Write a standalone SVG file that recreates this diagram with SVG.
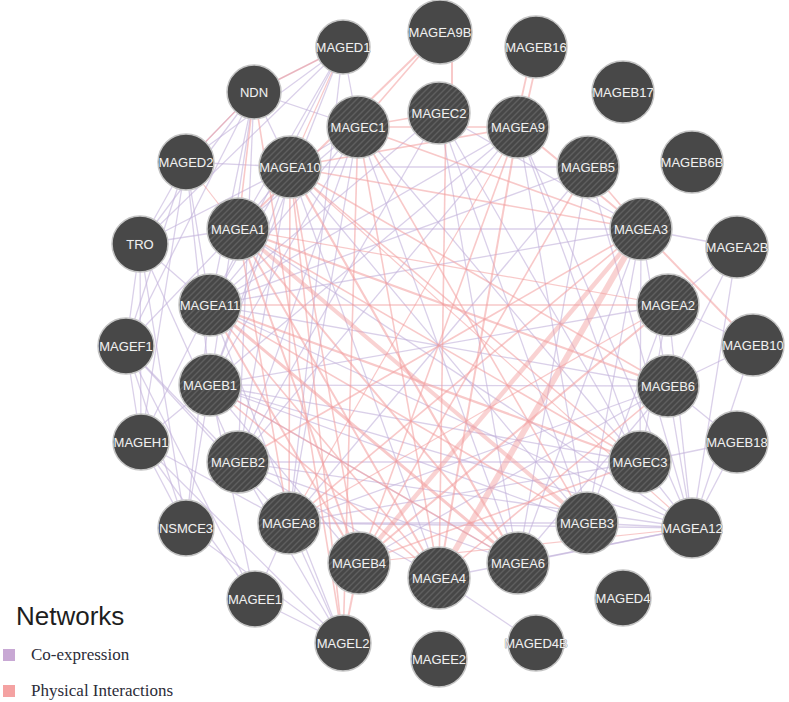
<svg xmlns="http://www.w3.org/2000/svg" width="789" height="702" viewBox="0 0 789 702">
<defs>
<pattern id="hatch" patternUnits="userSpaceOnUse" width="6" height="6">
<rect width="6" height="6" fill="#474747"/>
<path d="M-1,1 L1,-1 M0,6 L6,0 M5,7 L7,5" stroke="#5f5f5f" stroke-width="1.4"/>
</pattern>
<style>
.c{stroke:#c2b0da;stroke-width:1.3;opacity:0.6;fill:none}
.p{stroke:#f29c9c;stroke-width:1.6;opacity:0.55;fill:none}
.n{fill:#484848;stroke:#c4c4c4;stroke-width:1.5}
.h{fill:url(#hatch);stroke:#c4c4c4;stroke-width:1.5}
.t{font-family:"Liberation Sans",Arial,sans-serif;font-size:13px;fill:#f0f0f0;text-anchor:middle;stroke:#5a5a5a;stroke-width:0.6;paint-order:stroke}
.lg{font-family:"Liberation Serif","Times New Roman",serif;font-size:17px;fill:#2c2c38}
</style>
</defs>
<rect width="789" height="702" fill="#ffffff"/>
<g id="connectors">
<line class="c" x1="343" y1="47" x2="254" y2="92"/>
<line class="c" x1="343" y1="47" x2="186" y2="162"/>
<line class="c" x1="343" y1="47" x2="140" y2="244"/>
<line class="c" x1="343" y1="47" x2="238" y2="229"/>
<line class="c" x1="343" y1="47" x2="210" y2="305"/>
<line class="c" x1="343" y1="47" x2="358" y2="127"/>
<line class="c" x1="343" y1="47" x2="210" y2="385"/>
<line class="c" x1="343" y1="47" x2="289" y2="523"/>
<line class="c" x1="254" y1="92" x2="186" y2="162"/>
<line class="c" x1="254" y1="92" x2="140" y2="244"/>
<line class="c" x1="254" y1="92" x2="290" y2="167"/>
<line class="c" x1="254" y1="92" x2="210" y2="305"/>
<line class="c" x1="254" y1="92" x2="210" y2="385"/>
<line class="c" x1="254" y1="92" x2="358" y2="127"/>
<line class="c" x1="254" y1="92" x2="126" y2="346"/>
<line class="c" x1="254" y1="92" x2="238" y2="462"/>
<line class="c" x1="186" y1="162" x2="140" y2="244"/>
<line class="c" x1="186" y1="162" x2="126" y2="346"/>
<line class="c" x1="186" y1="162" x2="290" y2="167"/>
<line class="c" x1="186" y1="162" x2="210" y2="305"/>
<line class="c" x1="186" y1="162" x2="141" y2="442"/>
<line class="c" x1="186" y1="162" x2="210" y2="385"/>
<line class="c" x1="140" y1="244" x2="126" y2="346"/>
<line class="c" x1="140" y1="244" x2="141" y2="442"/>
<line class="c" x1="140" y1="244" x2="238" y2="229"/>
<line class="c" x1="140" y1="244" x2="210" y2="305"/>
<line class="c" x1="140" y1="244" x2="186" y2="528"/>
<line class="c" x1="140" y1="244" x2="290" y2="167"/>
<line class="c" x1="140" y1="244" x2="238" y2="462"/>
<line class="c" x1="126" y1="346" x2="141" y2="442"/>
<line class="c" x1="126" y1="346" x2="186" y2="528"/>
<line class="c" x1="126" y1="346" x2="238" y2="462"/>
<line class="c" x1="126" y1="346" x2="255" y2="599"/>
<line class="c" x1="126" y1="346" x2="238" y2="229"/>
<line class="c" x1="126" y1="346" x2="289" y2="523"/>
<line class="c" x1="141" y1="442" x2="186" y2="528"/>
<line class="c" x1="141" y1="442" x2="255" y2="599"/>
<line class="c" x1="141" y1="442" x2="343" y2="643"/>
<line class="c" x1="141" y1="442" x2="289" y2="523"/>
<line class="c" x1="141" y1="442" x2="210" y2="385"/>
<line class="c" x1="141" y1="442" x2="210" y2="305"/>
<line class="c" x1="186" y1="528" x2="343" y2="643"/>
<line class="c" x1="186" y1="528" x2="210" y2="385"/>
<line class="c" x1="186" y1="528" x2="210" y2="305"/>
<line class="c" x1="255" y1="599" x2="210" y2="385"/>
<line class="c" x1="255" y1="599" x2="343" y2="643"/>
<line class="c" x1="255" y1="599" x2="289" y2="523"/>
<line class="c" x1="343" y1="643" x2="289" y2="523"/>
<line class="c" x1="343" y1="643" x2="210" y2="305"/>
<line class="c" x1="343" y1="643" x2="238" y2="462"/>
<line class="c" x1="290" y1="167" x2="358" y2="127"/>
<line class="c" x1="290" y1="167" x2="238" y2="229"/>
<line class="c" x1="358" y1="127" x2="238" y2="229"/>
<line class="c" x1="358" y1="127" x2="210" y2="305"/>
<line class="c" x1="290" y1="167" x2="210" y2="305"/>
<line class="c" x1="290" y1="167" x2="210" y2="385"/>
<line class="c" x1="290" y1="167" x2="587" y2="523"/>
<line class="c" x1="290" y1="167" x2="439" y2="578"/>
<line class="c" x1="358" y1="127" x2="640" y2="462"/>
<line class="c" x1="358" y1="127" x2="518" y2="563"/>
<line class="c" x1="358" y1="127" x2="289" y2="523"/>
<line class="c" x1="439" y1="113" x2="238" y2="462"/>
<line class="c" x1="439" y1="113" x2="587" y2="523"/>
<line class="c" x1="439" y1="113" x2="210" y2="305"/>
<line class="c" x1="518" y1="127" x2="210" y2="385"/>
<line class="c" x1="518" y1="127" x2="210" y2="305"/>
<line class="c" x1="518" y1="127" x2="238" y2="462"/>
<line class="c" x1="238" y1="229" x2="641" y2="229"/>
<line class="c" x1="238" y1="229" x2="692" y2="528"/>
<line class="c" x1="210" y1="305" x2="692" y2="528"/>
<line class="c" x1="210" y1="385" x2="692" y2="528"/>
<line class="c" x1="238" y1="462" x2="692" y2="528"/>
<line class="c" x1="289" y1="523" x2="692" y2="528"/>
<line class="c" x1="439" y1="578" x2="692" y2="528"/>
<line class="c" x1="518" y1="563" x2="692" y2="528"/>
<line class="c" x1="587" y1="523" x2="692" y2="528"/>
<line class="c" x1="640" y1="462" x2="692" y2="528"/>
<line class="c" x1="668" y1="305" x2="692" y2="528"/>
<line class="c" x1="737" y1="247" x2="692" y2="528"/>
<line class="c" x1="668" y1="386" x2="737" y2="442"/>
<line class="c" x1="640" y1="462" x2="737" y2="442"/>
<line class="c" x1="668" y1="305" x2="753" y2="345"/>
<line class="c" x1="668" y1="386" x2="753" y2="345"/>
<line class="c" x1="641" y1="229" x2="737" y2="247"/>
<line class="c" x1="668" y1="305" x2="737" y2="247"/>
<line class="c" x1="668" y1="386" x2="737" y2="247"/>
<line class="c" x1="641" y1="229" x2="668" y2="386"/>
<line class="c" x1="641" y1="229" x2="640" y2="462"/>
<line class="c" x1="668" y1="305" x2="640" y2="462"/>
<line class="c" x1="668" y1="305" x2="587" y2="523"/>
<line class="c" x1="668" y1="386" x2="518" y2="563"/>
<line class="c" x1="668" y1="386" x2="359" y2="563"/>
<line class="c" x1="640" y1="462" x2="289" y2="523"/>
<line class="c" x1="640" y1="462" x2="238" y2="462"/>
<line class="c" x1="587" y1="523" x2="210" y2="385"/>
<line class="c" x1="587" y1="523" x2="289" y2="523"/>
<line class="c" x1="518" y1="563" x2="210" y2="385"/>
<line class="c" x1="518" y1="563" x2="238" y2="462"/>
<line class="c" x1="439" y1="578" x2="536" y2="643"/>
<line class="c" x1="439" y1="578" x2="238" y2="462"/>
<line class="c" x1="359" y1="563" x2="210" y2="385"/>
<line class="c" x1="238" y1="462" x2="290" y2="167"/>
<line class="c" x1="238" y1="462" x2="358" y2="127"/>
<line class="c" x1="210" y1="385" x2="358" y2="127"/>
<line class="c" x1="210" y1="305" x2="668" y2="386"/>
<line class="c" x1="210" y1="385" x2="668" y2="386"/>
<line class="c" x1="210" y1="385" x2="640" y2="462"/>
<line class="c" x1="692" y1="528" x2="518" y2="127"/>
<line class="c" x1="692" y1="528" x2="588" y2="167"/>
<line class="c" x1="588" y1="167" x2="290" y2="167"/>
<line class="c" x1="588" y1="167" x2="210" y2="305"/>
<line class="c" x1="439" y1="113" x2="641" y2="229"/>
<line class="c" x1="641" y1="229" x2="210" y2="305"/>
<line class="c" x1="668" y1="305" x2="210" y2="385"/>
<line class="c" x1="668" y1="386" x2="289" y2="523"/>
<line class="c" x1="518" y1="127" x2="640" y2="462"/>
<line class="c" x1="518" y1="127" x2="587" y2="523"/>
<line class="c" x1="439" y1="113" x2="518" y2="563"/>
<line class="c" x1="439" y1="113" x2="640" y2="462"/>
<line class="c" x1="588" y1="167" x2="518" y2="563"/>
<line class="c" x1="588" y1="167" x2="289" y2="523"/>
<line class="c" x1="641" y1="229" x2="587" y2="523"/>
<line class="c" x1="641" y1="229" x2="518" y2="563"/>
<line class="c" x1="692" y1="528" x2="737" y2="442"/>
<line class="c" x1="692" y1="528" x2="753" y2="345"/>
<line class="c" x1="692" y1="528" x2="668" y2="386"/>
<line class="p" x1="641" y1="229" x2="439" y2="578" style="stroke-width:6;opacity:0.45"/>
<line class="p" x1="641" y1="229" x2="359" y2="563" style="stroke-width:4.5;opacity:0.45"/>
<line class="p" x1="238" y1="229" x2="587" y2="523" style="stroke-width:4;opacity:0.45"/>
<line class="p" x1="210" y1="305" x2="518" y2="563" style="stroke-width:3"/>
<line class="p" x1="290" y1="167" x2="518" y2="563" style="stroke-width:2.2"/>
<line class="p" x1="238" y1="229" x2="668" y2="386" style="stroke-width:2.2"/>
<line class="p" x1="290" y1="167" x2="668" y2="386"/>
<line class="p" x1="210" y1="305" x2="640" y2="462" style="stroke-width:2.2"/>
<line class="p" x1="238" y1="229" x2="518" y2="563" style="stroke-width:2"/>
<line class="p" x1="668" y1="305" x2="359" y2="563" style="stroke-width:2"/>
<line class="p" x1="518" y1="127" x2="439" y2="578" style="stroke-width:2"/>
<line class="p" x1="446" y1="113" x2="439" y2="578"/>
<line class="p" x1="518" y1="127" x2="641" y2="229" style="stroke-width:2"/>
<line class="p" x1="358" y1="127" x2="641" y2="229"/>
<line class="p" x1="290" y1="167" x2="641" y2="229"/>
<line class="p" x1="238" y1="229" x2="359" y2="563" style="stroke-width:2"/>
<line class="p" x1="210" y1="305" x2="359" y2="563" style="stroke-width:2"/>
<line class="p" x1="290" y1="167" x2="359" y2="563"/>
<line class="p" x1="238" y1="229" x2="439" y2="578" style="stroke-width:2"/>
<line class="p" x1="210" y1="305" x2="439" y2="578"/>
<line class="p" x1="210" y1="385" x2="439" y2="578"/>
<line class="p" x1="452" y1="32" x2="452" y2="113" style="stroke-width:2"/>
<line class="p" x1="440" y1="32" x2="238" y2="229" style="stroke-width:2"/>
<line class="p" x1="533" y1="47" x2="515" y2="127" style="stroke-width:1.8"/>
<line class="p" x1="540" y1="47" x2="522" y2="127" style="stroke-width:1.8"/>
<line class="p" x1="588" y1="167" x2="641" y2="229"/>
<line class="p" x1="641" y1="229" x2="753" y2="345" style="stroke-width:2"/>
<line class="p" x1="343" y1="643" x2="254" y2="92"/>
<line class="p" x1="343" y1="643" x2="290" y2="167"/>
<line class="p" x1="343" y1="643" x2="359" y2="563" style="stroke-width:2"/>
<line class="p" x1="343" y1="643" x2="358" y2="127"/>
<line class="p" x1="358" y1="127" x2="587" y2="523"/>
<line class="p" x1="290" y1="167" x2="640" y2="462"/>
<line class="p" x1="238" y1="229" x2="640" y2="462"/>
<line class="p" x1="518" y1="127" x2="359" y2="563"/>
<line class="p" x1="588" y1="167" x2="359" y2="563"/>
<line class="p" x1="641" y1="229" x2="289" y2="523"/>
<line class="p" x1="668" y1="305" x2="238" y2="229" style="stroke-width:1.2"/>
<line class="p" x1="692" y1="528" x2="359" y2="563" style="stroke-width:1.2"/>
<line class="p" x1="238" y1="462" x2="641" y2="229"/>
<line class="p" x1="668" y1="386" x2="439" y2="578"/>
<line class="p" x1="640" y1="462" x2="359" y2="563"/>
<line class="p" x1="587" y1="523" x2="210" y2="305"/>
<line class="p" x1="290" y1="167" x2="692" y2="528" style="stroke-width:1.2"/>
<line class="p" x1="254" y1="92" x2="238" y2="229"/>
<line class="p" x1="343" y1="47" x2="254" y2="92"/>
<line class="p" x1="343" y1="47" x2="290" y2="167" style="stroke-width:1.2"/>
<line class="p" x1="186" y1="162" x2="238" y2="229" style="stroke-width:1.2"/>
<line class="p" x1="254" y1="92" x2="186" y2="162" style="stroke-width:1.2"/>
<line class="p" x1="358" y1="127" x2="439" y2="578"/>
<line class="p" x1="440" y1="32" x2="358" y2="127"/>
<line class="p" x1="358" y1="127" x2="518" y2="127"/>
<line class="p" x1="358" y1="127" x2="439" y2="113"/>
<line class="p" x1="290" y1="167" x2="518" y2="127"/>
<line class="p" x1="668" y1="305" x2="210" y2="305"/>
<line class="p" x1="289" y1="523" x2="668" y2="305" style="stroke-width:1.2"/>
<line class="p" x1="518" y1="563" x2="210" y2="385"/>
<line class="p" x1="290" y1="167" x2="289" y2="523"/>
<line class="p" x1="238" y1="229" x2="289" y2="523"/>
<line class="p" x1="518" y1="127" x2="289" y2="523" style="stroke-width:1.2"/>
</g>
<g id="MAGED1"><circle class="n" cx="343" cy="47" r="27"/><text class="t" x="343" y="51.5">MAGED1</text></g>
<g id="MAGEA9B"><circle class="n" cx="440" cy="32" r="32"/><text class="t" x="440" y="36.5">MAGEA9B</text></g>
<g id="MAGEB16"><circle class="n" cx="536" cy="47" r="31"/><text class="t" x="536" y="51.5">MAGEB16</text></g>
<g id="MAGEB17"><circle class="n" cx="623" cy="92" r="31"/><text class="t" x="623" y="96.5">MAGEB17</text></g>
<g id="MAGEB6B"><circle class="n" cx="692" cy="162" r="31"/><text class="t" x="692" y="166.5">MAGEB6B</text></g>
<g id="MAGEA2B"><circle class="n" cx="737" cy="247" r="31"/><text class="t" x="737" y="251.5">MAGEA2B</text></g>
<g id="MAGEB10"><circle class="n" cx="753" cy="345" r="31"/><text class="t" x="753" y="349.5">MAGEB10</text></g>
<g id="MAGEB18"><circle class="n" cx="737" cy="442" r="31"/><text class="t" x="737" y="446.5">MAGEB18</text></g>
<g id="MAGEA12"><circle class="n" cx="692" cy="528" r="30"/><text class="t" x="692" y="532.5">MAGEA12</text></g>
<g id="MAGED4"><circle class="n" cx="623" cy="598" r="28"/><text class="t" x="623" y="602.5">MAGED4</text></g>
<g id="MAGED4B"><circle class="n" cx="536" cy="643" r="28"/><text class="t" x="536" y="647.5">MAGED4B</text></g>
<g id="MAGEE2"><circle class="n" cx="439" cy="659" r="28"/><text class="t" x="439" y="663.5">MAGEE2</text></g>
<g id="MAGEL2"><circle class="n" cx="343" cy="643" r="28"/><text class="t" x="343" y="647.5">MAGEL2</text></g>
<g id="MAGEE1"><circle class="n" cx="255" cy="599" r="28"/><text class="t" x="255" y="603.5">MAGEE1</text></g>
<g id="NSMCE3"><circle class="n" cx="186" cy="528" r="28"/><text class="t" x="186" y="532.5">NSMCE3</text></g>
<g id="MAGEH1"><circle class="n" cx="141" cy="442" r="28"/><text class="t" x="141" y="446.5">MAGEH1</text></g>
<g id="MAGEF1"><circle class="n" cx="126" cy="346" r="28"/><text class="t" x="126" y="350.5">MAGEF1</text></g>
<g id="TRO"><circle class="n" cx="140" cy="244" r="28"/><text class="t" x="140" y="248.5">TRO</text></g>
<g id="MAGED2"><circle class="n" cx="186" cy="162" r="28"/><text class="t" x="186" y="166.5">MAGED2</text></g>
<g id="NDN"><circle class="n" cx="254" cy="92" r="27"/><text class="t" x="254" y="96.5">NDN</text></g>
<g id="MAGEC2"><circle class="h" cx="439" cy="113" r="31"/><text class="t" x="439" y="117.5">MAGEC2</text></g>
<g id="MAGEA9"><circle class="h" cx="518" cy="127" r="31"/><text class="t" x="518" y="131.5">MAGEA9</text></g>
<g id="MAGEB5"><circle class="h" cx="588" cy="167" r="31"/><text class="t" x="588" y="171.5">MAGEB5</text></g>
<g id="MAGEA3"><circle class="h" cx="641" cy="229" r="31"/><text class="t" x="641" y="233.5">MAGEA3</text></g>
<g id="MAGEA2"><circle class="h" cx="668" cy="305" r="31"/><text class="t" x="668" y="309.5">MAGEA2</text></g>
<g id="MAGEB6"><circle class="h" cx="668" cy="386" r="31"/><text class="t" x="668" y="390.5">MAGEB6</text></g>
<g id="MAGEC3"><circle class="h" cx="640" cy="462" r="31"/><text class="t" x="640" y="466.5">MAGEC3</text></g>
<g id="MAGEB3"><circle class="h" cx="587" cy="523" r="31"/><text class="t" x="587" y="527.5">MAGEB3</text></g>
<g id="MAGEA6"><circle class="h" cx="518" cy="563" r="31"/><text class="t" x="518" y="567.5">MAGEA6</text></g>
<g id="MAGEA4"><circle class="h" cx="439" cy="578" r="31"/><text class="t" x="439" y="582.5">MAGEA4</text></g>
<g id="MAGEB4"><circle class="h" cx="359" cy="563" r="31"/><text class="t" x="359" y="567.5">MAGEB4</text></g>
<g id="MAGEA8"><circle class="h" cx="289" cy="523" r="31"/><text class="t" x="289" y="527.5">MAGEA8</text></g>
<g id="MAGEB2"><circle class="h" cx="238" cy="462" r="31"/><text class="t" x="238" y="466.5">MAGEB2</text></g>
<g id="MAGEB1"><circle class="h" cx="210" cy="385" r="31"/><text class="t" x="210" y="389.5">MAGEB1</text></g>
<g id="MAGEA11"><circle class="h" cx="210" cy="305" r="31"/><text class="t" x="210" y="309.5">MAGEA11</text></g>
<g id="MAGEA1"><circle class="h" cx="238" cy="229" r="31"/><text class="t" x="238" y="233.5">MAGEA1</text></g>
<g id="MAGEA10"><circle class="h" cx="290" cy="167" r="31"/><text class="t" x="290" y="171.5">MAGEA10</text></g>
<g id="MAGEC1"><circle class="h" cx="358" cy="127" r="31"/><text class="t" x="358" y="131.5">MAGEC1</text></g>
<g id="legend">
<text x="16" y="625" style="font-family:'Liberation Sans',Arial,sans-serif;font-size:26px;fill:#1e1e1e">Networks</text>
<rect x="3" y="649" width="12" height="12" fill="#c8a8d4"/>
<text class="lg" x="31" y="660">Co-expression</text>
<rect x="3" y="685" width="12" height="12" fill="#f4a2a2"/>
<text class="lg" x="31" y="696">Physical Interactions</text>
</g>
</svg>
